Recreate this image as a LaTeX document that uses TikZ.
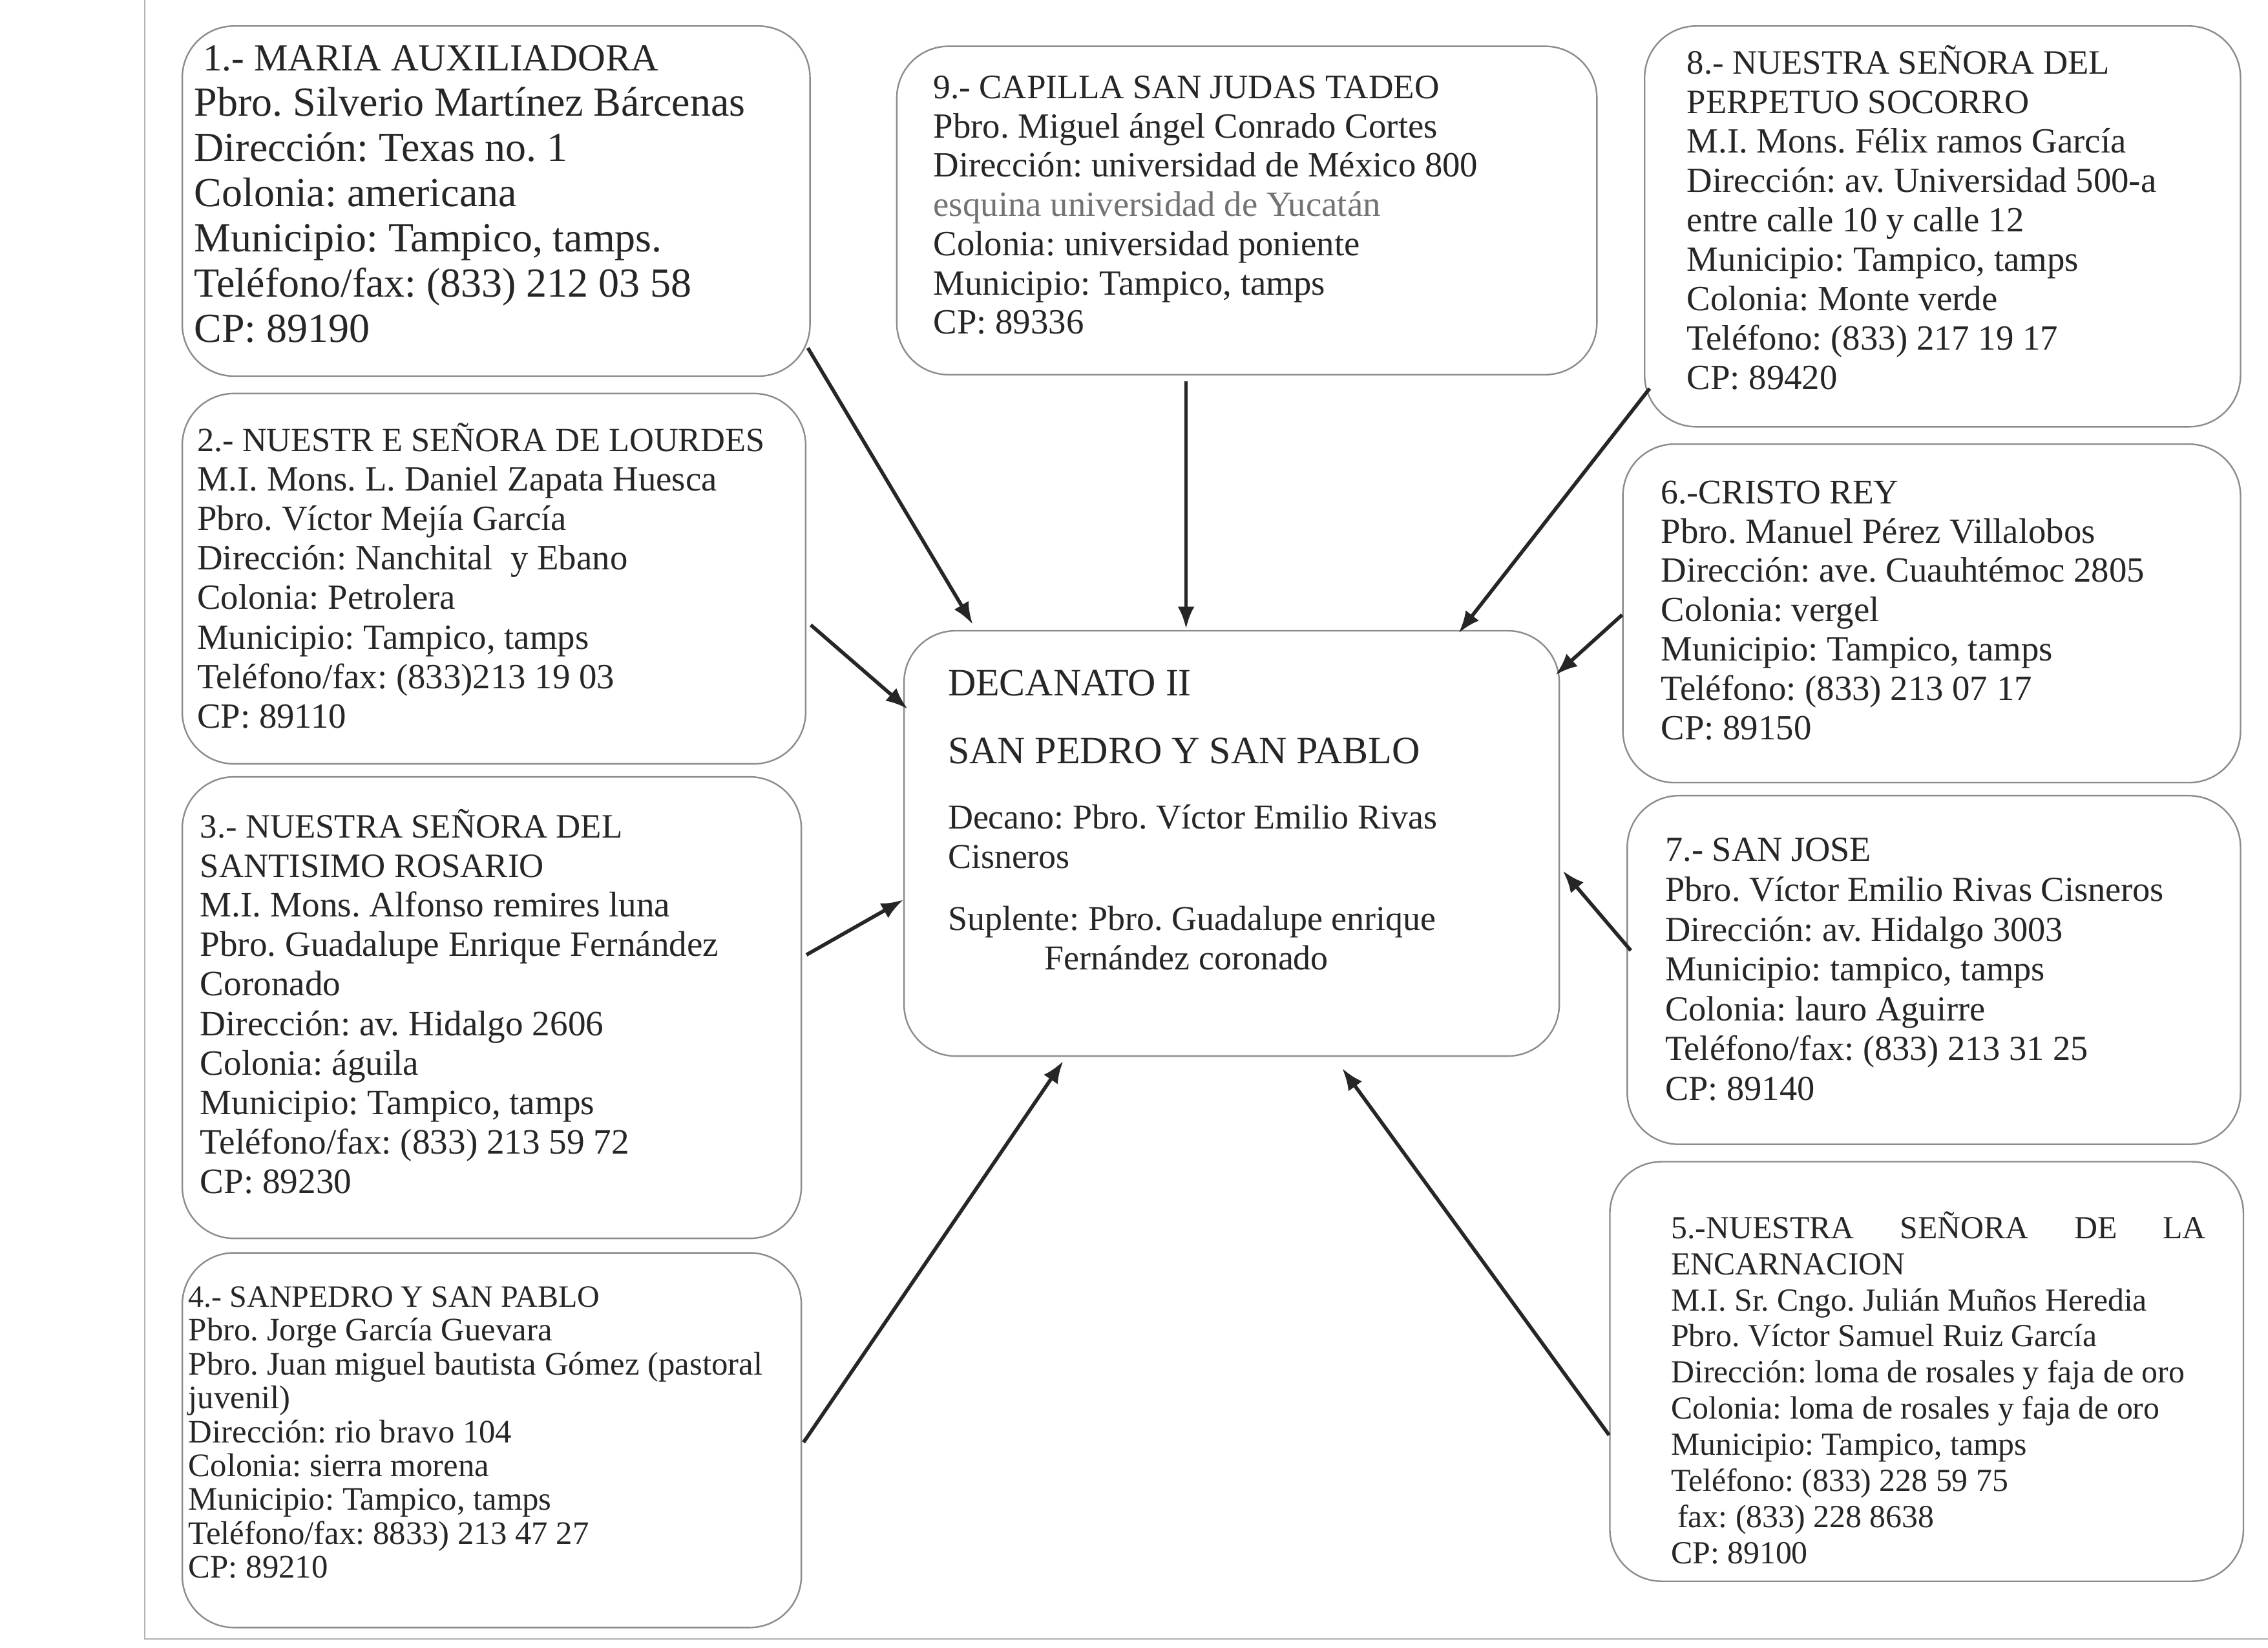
\documentclass[tikz,border=0pt]{standalone}
\usepackage{fontspec}
\setmainfont{Liberation Serif}
\usetikzlibrary{arrows.meta,calc}
\definecolor{ink}{HTML}{262626}
\definecolor{frame}{HTML}{8C8C8C}
\begin{document}
\frenchspacing
\begin{tikzpicture}[x=0.56pt,y=-0.56pt,
  frm/.style 2 args={draw=frame, line width=0.6pt, rounded corners=20pt,
    minimum width=#1*0.56pt, minimum height=#2*0.56pt, inner sep=0pt},
  txt/.style={anchor=north west, inner sep=0pt, align=left, text=ink},
  arr/.style={draw=ink, line width=1.4pt, -{Latex[length=8.5pt,width=6.5pt]}},
  paper/.style={draw=black!30, line width=0.5pt}]
\useasboundingbox[fill=white] (0,0) rectangle (1568,1139);
\draw[paper] (100,0) -- (100,1133) -- (1568,1133);

% frames
\node[frm={434}{242}] (b1) at (343,139) {};
\node[frm={431}{256}] (b2) at (341.5,400) {};
\node[frm={428}{319}] (b3) at (340,696.5) {};
\node[frm={428}{259}] (b4) at (340,995.5) {};
\node[frm={484}{227}] (b9) at (862,145.5) {};
\node[frm={412}{277}] (b8) at (1343,156.5) {};
\node[frm={427}{234}] (b6) at (1335.5,424) {};
\node[frm={424}{241}] (b7) at (1337,670.5) {};
\node[frm={438}{290}] (b5) at (1332,948) {};
\node[frm={453}{294}] (c) at (851.5,583) {};

% texts
\node[txt, font=\fontsize{16}{17.5}\selectfont] (t1) at (134,31) {%
\hspace*{3.4pt}{\fontsize{14.8}{17.5}\selectfont 1.- MARIA AUXILIADORA}\\
Pbro. Silverio Martínez Bárcenas\\
Dirección: Texas no. 1\\
Colonia: americana\\
Municipio: Tampico, tamps.\\
Teléfono/fax: (833) 212 03 58\\
CP: 89190};

\node[txt, font=\fontsize{13.7}{15.3}\selectfont] (t2) at (136,292) {%
{\fontsize{13.1}{15.3}\selectfont 2.- NUESTR E SEÑORA DE LOURDES}\\
M.I. Mons. L. Daniel Zapata Huesca\\
Pbro. Víctor Mejía García\\
Dirección: Nanchital~ y Ebano\\
Colonia: Petrolera\\
Municipio: Tampico, tamps\\
Teléfono/fax: (833)213 19 03\\
CP: 89110};

\node[txt, font=\fontsize{13.8}{15.3}\selectfont] (t3) at (138,559) {%
{\fontsize{13.2}{15.3}\selectfont 3.- NUESTRA SEÑORA DEL}\\
{\fontsize{13.2}{15.3}\selectfont SANTISIMO ROSARIO}\\
M.I. Mons. Alfonso remires luna\\
Pbro. Guadalupe Enrique Fernández\\
Coronado\\
Dirección: av. Hidalgo 2606\\
Colonia: águila\\
Municipio: Tampico, tamps\\
Teléfono/fax: (833) 213 59 72\\
CP: 89230};

\node[txt, font=\fontsize{12.7}{13.1}\selectfont] (t4) at (130,889) {%
{\fontsize{12.0}{13.1}\selectfont 4.- SANPEDRO Y SAN PABLO}\\
Pbro. Jorge García Guevara\\
Pbro. Juan miguel bautista Gómez (pastoral\\
juvenil)\\
Dirección: rio bravo 104\\
Colonia: sierra morena\\
Municipio: Tampico, tamps\\
Teléfono/fax: 8833) 213 47 27\\
CP: 89210};

\node[txt, font=\fontsize{13.7}{15.2}\selectfont] (t9) at (645,52) {%
{\fontsize{13.3}{15.2}\selectfont 9.- CAPILLA SAN JUDAS TADEO}\\
Pbro. Miguel ángel Conrado Cortes\\
Dirección: universidad de México 800\\
{\color{black!55}esquina universidad de Yucatán}\\
Colonia: universidad poniente\\
Municipio: Tampico, tamps\\
CP: 89336};

\node[txt, font=\fontsize{13.7}{15.26}\selectfont] (t8) at (1166,31) {%
{\fontsize{13.2}{15.26}\selectfont 8.- NUESTRA SEÑORA DEL}\\
{\fontsize{13.2}{15.26}\selectfont PERPETUO SOCORRO}\\
M.I. Mons. Félix ramos García\\
Dirección: av. Universidad 500-a\\
entre calle 10 y calle 12\\
Municipio: Tampico, tamps\\
Colonia: Monte verde\\
Teléfono: (833) 217 19 17\\
CP: 89420};

\node[txt, font=\fontsize{13.7}{15.2}\selectfont] (t6) at (1148,332) {%
{\fontsize{13.4}{15.2}\selectfont 6.-CRISTO REY}\\
Pbro. Manuel Pérez Villalobos\\
Dirección: ave. Cuauhtémoc 2805\\
Colonia: vergel\\
Municipio: Tampico, tamps\\
Teléfono: (833) 213 07 17\\
CP: 89150};

\node[txt, font=\fontsize{13.6}{15.4}\selectfont] (t7) at (1151,579) {%
7.- SAN JOSE\\
Pbro. Víctor Emilio Rivas Cisneros\\
Dirección: av. Hidalgo 3003\\
Municipio: tampico, tamps\\
Colonia: lauro Aguirre\\
Teléfono/fax: (833) 213 31 25\\
CP: 89140};

\node[txt, font=\fontsize{12.45}{14}\selectfont] (t5) at (1155,837) {%
\makebox[207pt][s]{5.-NUESTRA SEÑORA DE LA}\\
ENCARNACION\\
M.I. Sr. Cngo. Julián Muños Heredia\\
Pbro. Víctor Samuel Ruiz García\\
Dirección: loma de rosales y faja de oro\\
Colonia: loma de rosales y faja de oro\\
Municipio: Tampico, tamps\\
Teléfono: (833) 228 59 75\\
\hspace*{2.5pt}fax: (833) 228 8638\\
CP: 89100};

\node[txt, font=\fontsize{13.5}{15.2}\selectfont] (tc) at (655,463) {%
{\fontsize{15}{15.2}\selectfont DECANATO II}\\[11pt]
{\fontsize{15}{15.2}\selectfont SAN PEDRO Y SAN PABLO}\\[10pt]
Decano: Pbro. Víctor Emilio Rivas\\
Cisneros\\[9pt]
Suplente: Pbro. Guadalupe enrique\\
\hspace*{37.5pt}Fernández coronado};

% connectors
\draw[arr] ($(b1.south east)+(-2,-20)$) -- ($(c.north west)+(48,-4)$);
\draw[arr] ($(b9.south)+(-42,4)$) -- ($(c.north)+(-31.5,-1)$);
\draw[arr] ($(b8.south west)+(4,-27)$) -- ($(c.north east)+(-70,2)$);
\draw[arr] ($(b6.west)+(0,1)$) -- ($(c.north east)+(-3,31)$);
\draw[arr] ($(b7.west)+(3,-13.5)$) -- ($(c.east)+(2,19)$);
\draw[arr] ($(b5.west)+(0,44)$) -- ($(c.south)+(76.5,8)$);
\draw[arr] ($(b4.east)+(1,1.5)$) -- ($(c.south)+(-116.5,3)$);
\draw[arr] ($(b3.east)+(3,-36.5)$) -- ($(c.west)+(0,39)$);
\draw[arr] ($(b2.east)+(3,32)$) -- ($(c.west)+(3,-93)$);
\end{tikzpicture}
\end{document}
